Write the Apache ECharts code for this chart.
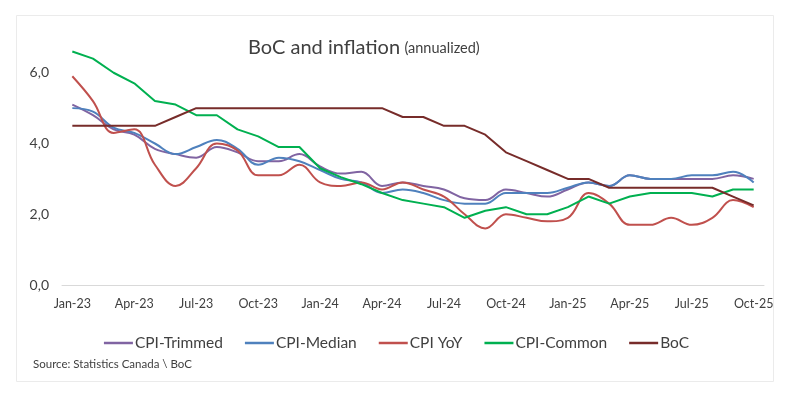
<!DOCTYPE html>
<html lang="en">
<head>
	<meta charset="UTF-8">
	<title>BoC and inflation</title>
	<script src="https://cdn.jsdelivr.net/npm/echarts@6/dist/echarts.min.js"></script>
</head>
<style>
	html, body { margin: 0; padding: 0; background: #fff; }
	#main { width: 793px; height: 398px; }
</style>
<body>
	<div id="main"></div>
	<script>
	// months Jan-23 .. Oct-25
	var months = ['Jan-23','Feb-23','Mar-23','Apr-23','May-23','Jun-23','Jul-23','Aug-23','Sep-23','Oct-23','Nov-23','Dec-23',
		'Jan-24','Feb-24','Mar-24','Apr-24','May-24','Jun-24','Jul-24','Aug-24','Sep-24','Oct-24','Nov-24','Dec-24',
		'Jan-25','Feb-25','Mar-25','Apr-25','May-25','Jun-25','Jul-25','Aug-25','Sep-25','Oct-25'];

	var cpiTrimmed = [5.1,4.8,4.4,4.25,3.85,3.7,3.6,3.9,3.75,3.5,3.5,3.7,3.35,3.15,3.2,2.8,2.9,2.8,2.7,2.45,2.4,2.7,2.6,2.5,2.7,2.9,2.8,3.1,3.0,3.0,3.0,3.0,3.1,3.0];
	var cpiMedian  = [5.0,4.9,4.45,4.3,4.0,3.7,3.9,4.1,3.85,3.4,3.6,3.5,3.25,3.0,2.9,2.6,2.7,2.6,2.4,2.3,2.3,2.6,2.6,2.6,2.75,2.9,2.8,3.1,3.0,3.0,3.1,3.1,3.2,2.9];
	var cpiYoY     = [5.9,5.2,4.3,4.4,3.4,2.8,3.3,4.0,3.8,3.1,3.1,3.4,2.9,2.8,2.9,2.7,2.9,2.7,2.5,2.0,1.6,2.0,1.9,1.8,1.9,2.6,2.3,1.7,1.7,1.9,1.7,1.9,2.4,2.2];
	var cpiCommon  = [6.6,6.4,6.0,5.7,5.2,5.1,4.8,4.8,4.4,4.2,3.9,3.9,3.3,3.05,2.85,2.6,2.4,2.3,2.2,1.9,2.1,2.2,2.0,2.0,2.2,2.5,2.3,2.5,2.6,2.6,2.6,2.5,2.7,2.7];
	var boc        = [4.5,4.5,4.5,4.5,4.5,4.75,5,5,5,5,5,5,5,5,5,5,4.75,4.75,4.5,4.5,4.25,3.75,3.5,3.25,3,3,2.75,2.75,2.75,2.75,2.75,2.75,2.5,2.25];

	var font = 'Lato, "Open Sans", sans-serif';

	function line(name, data, color, smooth) {
		return {
			name: name,
			type: 'line',
			data: data,
			symbol: 'none',
			smooth: smooth ? 0.4 : false,
			lineStyle: { color: color, width: 2 },
			itemStyle: { color: color }
		};
	}

	var myChart = echarts.init(document.getElementById('main'));
	var option = {
		animation: false,
		textStyle: { fontFamily: font },
		title: {
			text: '{a|BoC and inflation} {b|(annualized)}',
			left: 243,
			top: 33,
			textStyle: {
				rich: {
					a: { fontSize: 20, color: '#404040', fontFamily: font, fontWeight: 'normal' },
					b: { fontSize: 14.5, color: '#404040', fontFamily: font, fontWeight: 'normal' }
				}
			}
		},
		legend: {
			left: 'center',
			top: 330,
			icon: 'rect',
			itemWidth: 29,
			itemHeight: 2.5,
			itemGap: 22,
			textStyle: { fontSize: 15.5, color: '#404040', fontFamily: font, padding: [0, 0, 0, -3] },
			data: ['CPI-Trimmed','CPI-Median','CPI YoY','CPI-Common','BoC']
		},
		grid: { left: 62, right: 29, top: 2, bottom: 113, containLabel: false },
		xAxis: {
			type: 'category',
			data: months,
			boundaryGap: true,
			axisLine: { lineStyle: { color: '#d9d9d9' } },
			axisTick: { interval: 2, length: 4, lineStyle: { color: '#d9d9d9' } },
			axisLabel: { interval: 2, color: '#404040', fontSize: 12.5, margin: 12, fontFamily: font }
		},
		yAxis: {
			type: 'value',
			min: 0,
			max: 8,
			interval: 2,
			splitLine: { show: false },
			axisLine: { show: false },
			axisTick: { show: false },
			axisLabel: {
				showMaxLabel: false,
				color: '#404040',
				fontSize: 14,
				margin: 13,
				fontFamily: font,
				formatter: function (v) { return v.toFixed(1).replace('.', ','); }
			}
		},
		graphic: [
			{
				type: 'rect',
				shape: { x: 16.5, y: 15.5, width: 757, height: 366 },
				style: { fill: 'none', stroke: '#ebebeb', lineWidth: 1 },
				silent: true
			},
			{
				type: 'text',
				left: 33,
				top: 358,
				style: { text: 'Source: Statistics Canada \\ BoC', fill: '#404040', font: '11.5px ' + font }
			}
		],
		series: [
			line('CPI-Trimmed', cpiTrimmed, '#8064A2', true),
			line('CPI-Median', cpiMedian, '#4F81BD', true),
			line('CPI YoY', cpiYoY, '#C0504D', true),
			line('CPI-Common', cpiCommon, '#00B050', false),
			line('BoC', boc, '#772C2A', false)
		]
	};
	myChart.setOption(option);
	</script>
</body>
</html>
